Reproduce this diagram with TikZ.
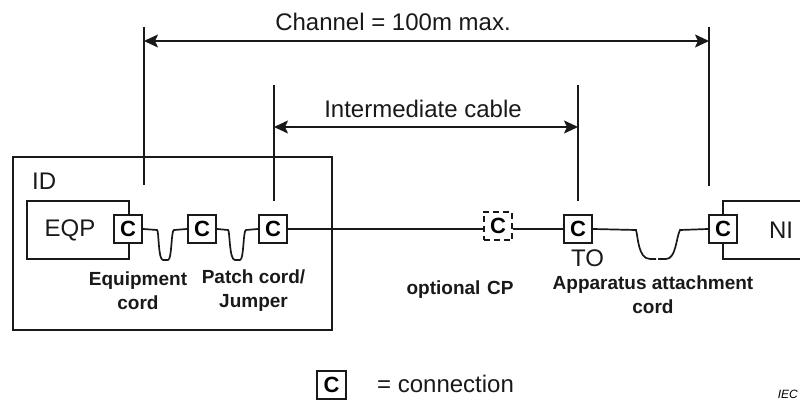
\documentclass[tikz,border=0pt]{standalone}
\usepackage{fontspec}
\setmainfont{Liberation Sans}
\usetikzlibrary{arrows.meta}
\tikzset{
  wire/.style={line width=1.7pt,black!90},
  frame/.style={line width=1.7pt,black!90},
  conn/.style={draw=black!90,line width=1.8pt,fill=white,minimum size=28.5pt,inner sep=0pt,font=\fontsize{22}{22}\selectfont\bfseries},
  connd/.style={conn,line width=1.6pt,dash pattern=on 6pt off 4pt},
  big/.style={inner sep=0pt,text=black!90,font=\fontsize{24}{24}\selectfont},
  bold/.style={inner sep=0pt,align=center,text=black!90,font=\fontsize{19}{24}\selectfont\bfseries},
  dim/.style={wire,{Stealth[length=14pt,width=13pt,inset=3pt]}-{Stealth[length=14pt,width=13pt,inset=3pt]}}
}
\begin{document}
\begin{tikzpicture}[x=1pt,y=-1pt]
\useasboundingbox (0,0) rectangle (800,401);
\clip (0,0) rectangle (800,401);
% frames
\node[draw=black!90,frame,minimum width=319pt,minimum height=173pt,inner sep=0pt] (idbox) at (172.5,243.5) {};
\draw[frame] (129,214) -- (129,201) -- (27,201) -- (27,259) -- (129,259) -- (129,244);
\draw[frame] (800,201) -- (723,201) -- (723,214);
\draw[frame] (723,244) -- (723,259) -- (800,259);
% connection nodes
\node[conn] (c1) at (128,229) {C};
\node[conn] (c2) at (202,229) {C};
\node[conn] (c3) at (273,229) {C};
\node[connd] (cp) at (498,226) {C};
\node[conn] (to) at (578,229) {C};
\node[conn] (c6) at (723,229) {C};
\node[conn] (legend) at (331.5,385) {C};
% coordinates for dimension lines
\coordinate (a1) at (144,27); \coordinate (a2) at (144,185);
\coordinate (b1) at (709,27); \coordinate (b2) at (709,186);
\coordinate (d1) at (274,85); \coordinate (d2) at (274,201);
\coordinate (e1) at (578,85); \coordinate (e2) at (578,201);
\coordinate (ca) at (144,41); \coordinate (cb) at (709,41);
\coordinate (ia) at (274,127); \coordinate (ib) at (578,127);
\draw[wire] (a1) -- (a2);
\draw[wire] (b1) -- (b2);
\draw[wire] (d1) -- (d2);
\draw[wire] (e1) -- (e2);
\draw[dim] (ca) -- (cb);
\draw[dim] (ia) -- (ib);
% cords
\draw[wire] (c1.east) -- (157,230) .. controls (159,230) and (158,260) .. (163,260) -- (168,260) .. controls (172,260) and (171,230) .. (174,230) -- (c2.west);
\draw[wire] (c2.east) -- (228,230) .. controls (230,230) and (229,260) .. (235,260) -- (240,260) .. controls (244,260) and (243,230) .. (246,230) -- (c3.west);
\draw[wire] (c3.east) -- (cp.west |- c3.east);
\draw[wire] (cp.east |- to.west) -- (to.west);
\draw[wire] (to.east) -- (636,230) .. controls (638,236) and (638,259) .. (650,259) -- (656,259);
\draw[wire] (658,259) -- (666,259) .. controls (676,259) and (676,238) .. (680,230) -- (c6.west);
% texts
\node[big] (tch) at (393,22) {Channel = 100m max.};
\node[big] (tic) at (423,109) {Intermediate cable};
\node[big,anchor=west] (tid) at (32,181) {ID};
\node[big] (teqp) at (70,230) {EQP};
\node[big] (tni) at (781,230) {NI};
\node[big] (tto) at (587.5,258) {TO};
\node[bold] (tec) at (138,291) {Equipment\\cord};
\node[bold] (tpc) at (253.5,291) {Patch cord/\\Jumper};
\node[bold] (tcp) at (460,290) {optional\hspace{6.6pt}CP};
\node[bold] (tap) at (653,295) {Apparatus attachment\\cord};
\node[big,anchor=west] (tcon) at (377,384) {= connection};
\node[inner sep=0pt,anchor=base east,font=\fontsize{12}{12}\selectfont\itshape] (tiec) at (798,398) {IEC};
\end{tikzpicture}
\end{document}
